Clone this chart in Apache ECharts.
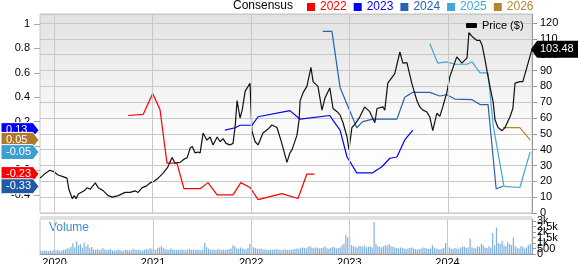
<!DOCTYPE html>
<html><head><meta charset="utf-8">
<script src="https://cdn.jsdelivr.net/npm/echarts@6/dist/echarts.min.js"></script>
<style>html,body{margin:0;padding:0;background:#fff}#c{width:578px;height:264px}</style>
</head><body><div id="c"></div>
<script>
// ---------- data ----------
const years = [2020, 2021, 2022, 2023, 2024];
const axisStart = '2019-11-10';
const axisEnd = '2024-11-08';
const epsTicks = [-0.4, -0.2, 0, 0.2, 0.4, 0.6, 0.8, 1];
const volumeTicks = [0, 500, 1000, 1500, 2000, 2500, 3000];

const priceDates = ['2019-11-10','2019-11-29','2019-12-17','2020-01-01','2020-01-16','2020-02-03','2020-02-18','2020-02-25','2020-03-09','2020-03-16','2020-03-23','2020-03-31','2020-04-07','2020-04-22','2020-05-03','2020-05-14','2020-06-02','2020-06-13','2020-07-02','2020-07-20','2020-08-04','2020-08-26','2020-09-21','2020-10-09','2020-10-28','2020-11-08','2020-11-23','2020-12-08','2020-12-22','2021-01-06','2021-01-21','2021-02-08','2021-02-26','2021-03-14','2021-03-25','2021-04-13','2021-04-27','2021-05-09','2021-05-20','2021-05-28','2021-06-07','2021-06-18','2021-06-26','2021-07-07','2021-07-21','2021-08-02','2021-08-13','2021-08-28','2021-09-08','2021-09-19','2021-09-30','2021-10-14','2021-10-26','2021-11-03','2021-11-10','2021-11-21','2021-11-29','2021-12-10','2021-12-21','2021-12-28','2022-01-04','2022-01-16','2022-01-27','2022-02-14','2022-03-05','2022-03-19','2022-04-07','2022-04-25','2022-05-14','2022-05-25','2022-06-02','2022-06-20','2022-06-28','2022-07-02','2022-07-13','2022-07-27','2022-08-11','2022-08-19','2022-09-06','2022-09-21','2022-10-02','2022-10-20','2022-11-01','2022-11-16','2022-11-27','2022-12-08','2022-12-23','2022-12-30','2023-01-10','2023-01-21','2023-02-08','2023-02-26','2023-03-17','2023-04-05','2023-04-13','2023-05-05','2023-05-12','2023-05-23','2023-06-18','2023-07-07','2023-07-18','2023-08-02','2023-08-20','2023-09-08','2023-09-19','2023-09-30','2023-10-14','2023-10-26','2023-11-06','2023-11-21','2023-12-02','2023-12-13','2023-12-28','2024-01-08','2024-02-03','2024-02-22','2024-03-12','2024-03-19','2024-04-03','2024-04-18','2024-04-29','2024-05-07','2024-05-18','2024-05-29','2024-06-06','2024-06-17','2024-06-24','2024-07-05','2024-07-20','2024-07-31','2024-08-18','2024-08-29','2024-09-06','2024-09-24','2024-10-05','2024-10-20','2024-11-08'];
const priceValues = [22,25,27,26,24,23,22,15,9,11,9,12,11,14,16,15,19,16,14,11,10,11,13,13,14,13,16,17,19,20,22,25,29,35,31.6,32,34,35,41,42,38,38.5,38,50.5,46,48,43,48,45,47,44,43,44,55,71,60,65,77,80,82,52,45,43,50.5,53,55.6,54,44,32,38,40,49,58.7,71,76,80,92,83,80,65,72.6,79,66,64,62,57,48,40,54,56,60.6,67,64,57,66,67,65,82,88,101.7,94.7,95,82,71,67,65,64,60.6,52,63,61,67,76,86,98.6,94.7,98,114,111,109,109,106,96.6,86,79,70,58.7,54,52,54,60.6,66,82,83,83,92,103.48];

const eps2022Dates = ['2020-10-02','2020-11-27','2021-01-01','2021-01-28','2021-02-23','2021-04-01','2021-04-27','2021-06-26','2021-07-25','2021-08-28','2021-10-26','2021-11-24','2021-12-28','2022-01-27','2022-04-25','2022-06-24','2022-07-27','2022-08-24'];
const eps2022Values = [0.25,0.26,0.43,0.30,-0.14,-0.14,-0.35,-0.35,-0.30,-0.40,-0.40,-0.30,-0.34,-0.44,-0.39,-0.43,-0.23,-0.23];

const eps2023Dates = ['2021-09-26','2021-11-03','2021-11-21','2022-01-04','2022-01-27','2022-05-25','2022-07-02','2022-10-20','2022-11-01','2022-11-27','2022-12-23','2023-01-28','2023-03-28','2023-05-01','2023-05-31','2023-06-26','2023-07-25','2023-08-24'];
const eps2023Values = [0.13,0.15,0.17,0.17,0.24,0.29,0.22,0.25,0.21,0.13,-0.09,-0.22,-0.22,-0.17,-0.10,-0.09,0.05,0.13];

const eps2024Dates = ['2022-09-24','2022-10-28','2022-11-27','2023-01-28','2023-02-19','2023-03-28','2023-06-26','2023-07-25','2023-08-24','2023-10-26','2023-12-02','2023-12-28','2024-01-27','2024-03-31','2024-04-29','2024-05-29','2024-06-28','2024-07-24'];
const eps2024Values = [0.94,0.94,0.48,0.15,0.20,0.22,0.22,0.40,0.44,0.44,0.41,0.42,0.385,0.38,0.34,0.34,-0.35,-0.33];

const eps2025Dates = ['2023-10-26','2023-11-24','2023-12-28','2024-01-27','2024-03-12','2024-03-31','2024-04-29','2024-05-29','2024-06-17','2024-07-27','2024-09-24','2024-11-01'];
const eps2025Values = [0.84,0.68,0.69,0.67,0.67,0.69,0.60,0.60,0.17,-0.33,-0.34,-0.05];

const eps2026Dates = ['2024-07-24','2024-09-24','2024-11-01'];
const eps2026Values = [0.15,0.15,0.05];

const volumeStart = [2019, 10, 11]; // weekly bars from 2019-11-11
const volumeValues = [
 320,280,350,300,260,310,280,420,330,360,300,290,380,420,520,480,
 650,980,620,1150,780,900,560,1050,700,880,520,640,430,
 380,450,360,420,520,400,350,380,460,330,300,350,420,380,300,320,400,360,340,310,450,380,360,420,350,300,380,460,400,520,
 480,420,380,520,600,700,560,450,400,380,500,420,360,350,400,380,420,380,350,400,450,380,420,360,400,380,350,420,
 1000,
 620,480,420,380,400,360,450,420,380,400,360,420,450,500,800,700,520,460,600,500,450,420,550,
 900,700,600,520,480,450,500,420,400,380,360,400,380,420,450,400,380,360,400,420,380,360,400,420,450,500,480,520,600,560,500,650,700,560,520,600,580,500,550,600,700,520,480,560,650,600,500,550,600,800,900,1700,1500,
 1600,800,700,650,600,750,700,650,800,600,650,700,600,2900,
 900,700,650,600,700,800,750,900,700,650,600,550,500,
 600,550,500,450,500,550,600,500,450,400,450,500,600,
 550,500,450,500,800,600,500,450,400,500,550,1000,
 900,600,500,450,550,500,450,600,700,650,550,600,1400,
 600,550,500,700,650,900,800,600,550,700,600,1900,
 800,2400,1000,
 900,1200,800,700,1100,900,800,1500,700,
 600,500,700,650,500,600,800,900
];

// ---------- chart ----------
const FONT = '"Liberation Sans", Arial, Helvetica, sans-serif';
const epsMin = -0.549, epsMax = 1.082;
const priceMax = 125.7;
const volMax = 3182;

const epsSeries = [
  {name: '2022', dates: eps2022Dates, values: eps2022Values, color: '#ff0000', badge: '#ff0000'},
  {name: '2023', dates: eps2023Dates, values: eps2023Values, color: '#0000ff', badge: '#0000ff'},
  {name: '2024', dates: eps2024Dates, values: eps2024Values, color: '#2562b0', badge: '#1f5aa6'},
  {name: '2025', dates: eps2025Dates, values: eps2025Values, color: '#43a6d6', badge: '#3b9fcf'},
  {name: '2026', dates: eps2026Dates, values: eps2026Values, color: '#b5852f', badge: '#b07a2a'}
];
const zip = (d, v) => d.map((x, i) => [x, v[i]]);
const yearTs = years.map(y => new Date(y, 0, 1).getTime());
const volumeData = volumeValues.map((v, i) => [new Date(volumeStart[0], volumeStart[1], volumeStart[2] + 7 * i).getTime(), v]);
const yearLines = (withLabels) => ({
  silent: true, symbol: 'none', emphasis: {disabled: true},
  label: withLabels ? {show: true, position: 'start', distance: 3, fontSize: 11, color: '#000', fontFamily: FONT,
                       formatter: p => String(new Date(p.value).getFullYear())} : {show: false},
  lineStyle: {color: '#c8c8c8', type: 'solid', width: 1},
  data: yearTs.map(t => ({xAxis: t}))
});
const volFmt = v => v >= 1000 ? (v / 1000) + 'k' : String(v);

const chart = echarts.init(document.getElementById('c'), null, {renderer: 'canvas'});
const option = {
  animation: false,
  textStyle: {fontFamily: FONT},
  grid: [
    {left: 40, right: 46, top: 14, height: 199, show: true, borderColor: '#c6c6c6', borderWidth: 1,
     backgroundColor: {type: 'linear', x: 0, y: 0, x2: 0, y2: 1,
       colorStops: [{offset: 0, color: '#e2e2e2'}, {offset: 0.6, color: '#fcfcfc'}, {offset: 1, color: '#ffffff'}]}},
    {left: 40, right: 46, top: 219, height: 35, show: true, borderColor: '#c6c6c6', borderWidth: 1, backgroundColor: '#ffffff'}
  ],
  xAxis: [
    {type: 'time', gridIndex: 0, min: axisStart, max: axisEnd, axisLine: {show: false}, axisTick: {show: false},
     axisLabel: {show: false}, splitLine: {show: false}},
    {type: 'time', gridIndex: 1, min: axisStart, max: axisEnd, axisLine: {show: true, lineStyle: {color: '#999'}},
     axisTick: {show: false}, splitLine: {show: false}, axisLabel: {show: false}}
  ],
  yAxis: [
    {type: 'value', gridIndex: 0, position: 'left', min: epsMin, max: epsMax,
     axisLine: {show: false},
     axisTick: {show: true, customValues: epsTicks, length: 6, lineStyle: {color: '#aaa'}},
     axisLabel: {customValues: epsTicks, formatter: v => String(Math.round(v * 10) / 10), fontSize: 11, color: '#000', margin: 10,
       showMinLabel: true, showMaxLabel: true, hideOverlap: false},
     splitLine: {show: false}},
    {type: 'value', gridIndex: 0, position: 'right', min: 0, max: priceMax, interval: 10,
     axisLine: {show: true, lineStyle: {color: '#999'}},
     axisTick: {show: true, length: 5, lineStyle: {color: '#999'}},
     axisLabel: {fontSize: 11, color: '#000', margin: 8, showMaxLabel: false, showMinLabel: true, hideOverlap: false},
     splitLine: {show: true, lineStyle: {color: '#c8c8c8', width: 1}}},
    {type: 'value', gridIndex: 1, position: 'right', min: 0, max: volMax,
     axisLine: {show: true, lineStyle: {color: '#999'}},
     axisTick: {show: true, customValues: volumeTicks, length: 4, lineStyle: {color: '#999'}},
     axisLabel: {customValues: volumeTicks.filter((v, i) => i % 2 === 0), fontSize: 11, color: '#000', margin: 5,
       showMinLabel: true, showMaxLabel: true, hideOverlap: false, formatter: volFmt},
     splitLine: {show: false}},
    {type: 'value', gridIndex: 1, position: 'right', min: 0, max: volMax,
     axisLine: {show: false}, axisTick: {show: false},
     axisLabel: {customValues: volumeTicks.filter((v, i) => i % 2 === 1), fontSize: 11, color: '#000', margin: 5,
       showMinLabel: true, showMaxLabel: true, hideOverlap: false, formatter: volFmt},
     splitLine: {show: false}}
  ],
  legend: [
    {top: 1, left: 307, padding: 0, itemWidth: 8, itemHeight: 8, itemGap: 7, icon: 'rect', selectedMode: false,
     data: epsSeries.map(s => ({name: s.name, textStyle: {color: s.color}})),
     textStyle: {fontSize: 12, fontFamily: FONT}},
    {top: 20, left: 466, padding: 0, itemWidth: 11, itemHeight: 5, icon: 'roundRect', selectedMode: false,
     data: ['Price ($)'], textStyle: {fontSize: 11, color: '#000', fontFamily: FONT}}
  ],
  series: [
    {type: 'line', name: 'grid-main', xAxisIndex: 0, yAxisIndex: 1, data: [], z: 1, markLine: yearLines(false)},
    {type: 'bar', name: 'Volume', xAxisIndex: 1, yAxisIndex: 2, data: volumeData, barWidth: 1.2,
     itemStyle: {color: '#7fb1de'}, z: 2, markLine: yearLines(true)},
    {type: 'line', name: 'vol-axis2', xAxisIndex: 1, yAxisIndex: 3, data: [], silent: true}
  ].concat(epsSeries.map(s => ({
    type: 'line', name: s.name, xAxisIndex: 0, yAxisIndex: 0, data: zip(s.dates, s.values), color: s.color,
    symbol: 'none', lineStyle: {width: 1.2}, z: 3
  }))).concat([
    {type: 'line', name: 'Price ($)', xAxisIndex: 0, yAxisIndex: 1, data: zip(priceDates, priceValues), color: '#000',
     symbol: 'none', lineStyle: {width: 1.2, color: '#111'}, z: 4}
  ])
};
chart.setOption(option);

// ---------- badges & labels ----------
const graphics = [
  {type: 'text', left: 233, top: 0, style: {text: 'Consensus', font: '12px ' + FONT, fill: '#000'}},
  {type: 'text', left: 49, top: 222, style: {text: 'Volume', font: '12px ' + FONT, fill: '#3b8fd0'}},
  {type: 'rect', shape: {x: 40, y: 216, width: 492, height: 3}, style: {fill: '#e0e0e0'}, z: 10}
];
const badgeList = epsSeries.map(s => ({v: s.values[s.values.length - 1], color: s.badge}))
  .sort((a, b) => b.v - a.v);
badgeList.forEach((b, i) => {
  const y = chart.convertToPixel({yAxisIndex: 0}, b.v);
  graphics.push({type: 'polygon', z: 20 + i,
    shape: {points: [[1, y - 7.5], [33, y - 7.5], [39, y], [33, y + 7.5], [1, y + 7.5]]},
    style: {fill: b.color, stroke: '#fff', lineWidth: 1}});
  graphics.push({type: 'text', z: 20 + i, x: 6, y: y,
    style: {text: b.v.toFixed(2), font: '11px ' + FONT, fill: '#fff', verticalAlign: 'middle'}});
});
const lastPrice = priceValues[priceValues.length - 1];
const py = chart.convertToPixel({yAxisIndex: 1}, lastPrice);
graphics.push({type: 'polygon', z: 30,
  shape: {points: [[531, py], [537, py - 8.5], [578, py - 8.5], [578, py + 8.5], [537, py + 8.5]]},
  style: {fill: '#000'}});
graphics.push({type: 'text', z: 31, x: 540, y: py,
  style: {text: lastPrice.toFixed(2), font: '11px ' + FONT, fill: '#fff', verticalAlign: 'middle'}});
chart.setOption({graphic: graphics});
</script>
</body></html>
